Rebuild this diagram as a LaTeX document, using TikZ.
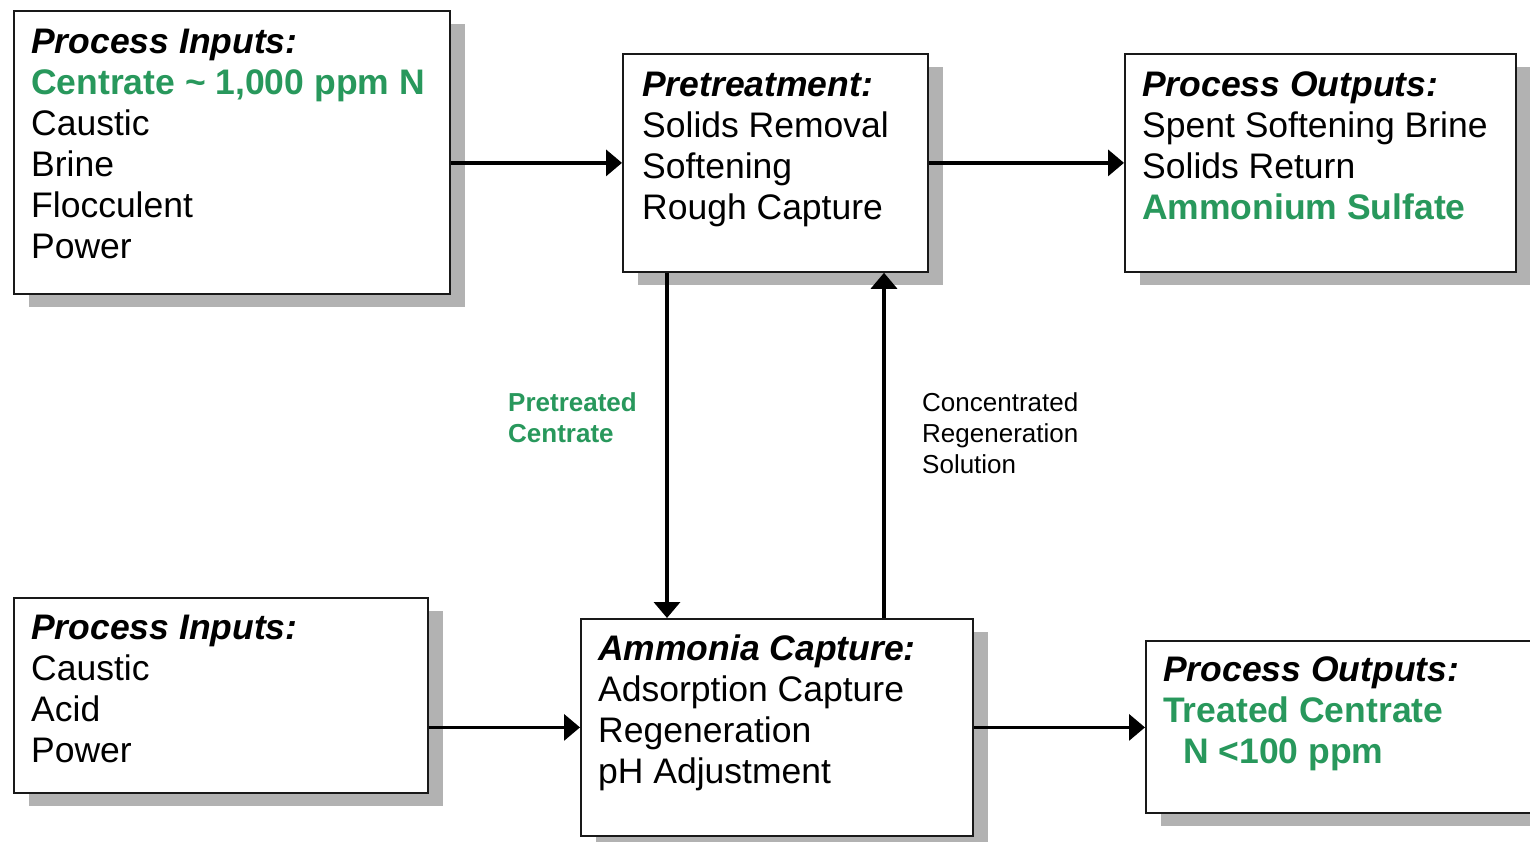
\documentclass[tikz,border=0pt]{standalone}
\usepackage{fontspec}
\setmainfont{Liberation Sans}
\usetikzlibrary{arrows.meta,shadows}
\definecolor{grn}{RGB}{40,152,92}
\newcommand\boxlines[1]{\begin{tabular}[t]{@{}l@{}}#1\end{tabular}}
\begin{document}
\begin{tikzpicture}[x=1pt,y=-1pt,
  box/.style={draw=black!90, line width=1.8pt, fill=white, anchor=north west, inner sep=0pt,
    drop shadow={shadow xshift=15pt, shadow yshift=-13pt, fill=black!30, opacity=1}},
  txt/.style={anchor=base west, inner sep=0pt, font=\fontsize{35.5}{41}\selectfont},
  lbl/.style={anchor=base west, inner sep=0pt, font=\fontsize{26}{31}\selectfont},
  arr/.style={line width=3.5pt, -{Triangle[length=16pt,width=26pt]}},
  ttl/.style={}]
\clip (0,0) rectangle (1530,842);
\fill[white] (0,0) rectangle (1530,842);
% boxes
\node[box, minimum width=436pt, minimum height=283pt] (b1) at (13,10) {};
\node[box, minimum width=305pt, minimum height=218pt] (b2) at (622,53) {};
\node[box, minimum width=391pt, minimum height=218pt] (b3) at (1124,53) {};
\node[box, minimum width=414pt, minimum height=195pt] (b4) at (13,597) {};
\node[box, minimum width=392pt, minimum height=217pt] (b5) at (580,618) {};
\node[box, minimum width=400pt, minimum height=172pt] (b6) at (1145,640) {};
% texts
\node[txt] (t1) at (31,54) {\boxlines{\textbf{\textit{Process Inputs:}}\\
  {\color{grn}\textbf{Centrate \textasciitilde{} 1,000 ppm N}}\\ Caustic\\ Brine\\ Flocculent\\ Power}};
\node[txt] (t2) at (642,97) {\boxlines{\textbf{\textit{Pretreatment:}}\\
  Solids Removal\\ Softening\\ Rough Capture}};
\node[txt] (t3) at (1142,97) {\boxlines{\textbf{\textit{Process Outputs:}}\\
  Spent Softening Brine\\ Solids Return\\ {\color{grn}\textbf{Ammonium Sulfate}}}};
\node[txt] (t4) at (31,639) {\boxlines{\textbf{\textit{Process Inputs:}}\\
  Caustic\\ Acid\\ Power}};
\node[txt] (t5) at (598,660) {\boxlines{\textbf{\textit{Ammonia Capture:}}\\
  Adsorption Capture\\ Regeneration\\ pH Adjustment}};
\node[txt] (t6) at (1163,681) {\boxlines{\textbf{\textit{Process Outputs:}}\\
  {\color{grn}\textbf{Treated Centrate}}\\ {\color{grn}\textbf{\hspace*{20pt}N <100 ppm}}}};
% labels
\node[lbl, text=grn, font=\fontsize{26}{31}\selectfont\bfseries] (l1) at (508,411) {\boxlines{Pretreated\\ Centrate}};
\node[lbl] (l2) at (922,411) {\boxlines{Concentrated\\ Regeneration\\ Solution}};
% connectors
\coordinate (dn) at (667,0);
\coordinate (up) at (884,0);
\draw[arr] (b1.east |- b2.west) -- (b2.west);
\draw[arr] (b2.east) -- (b3.west);
\draw[arr] (b4.east |- b5.west) -- (b5.west);
\draw[arr] (b5.east) -- (b6.west |- b5.east);
\draw[arr] (b2.south -| dn) -- (b5.north -| dn);
\draw[arr] (b5.north -| up) -- (b2.south -| up);
\end{tikzpicture}
\end{document}
